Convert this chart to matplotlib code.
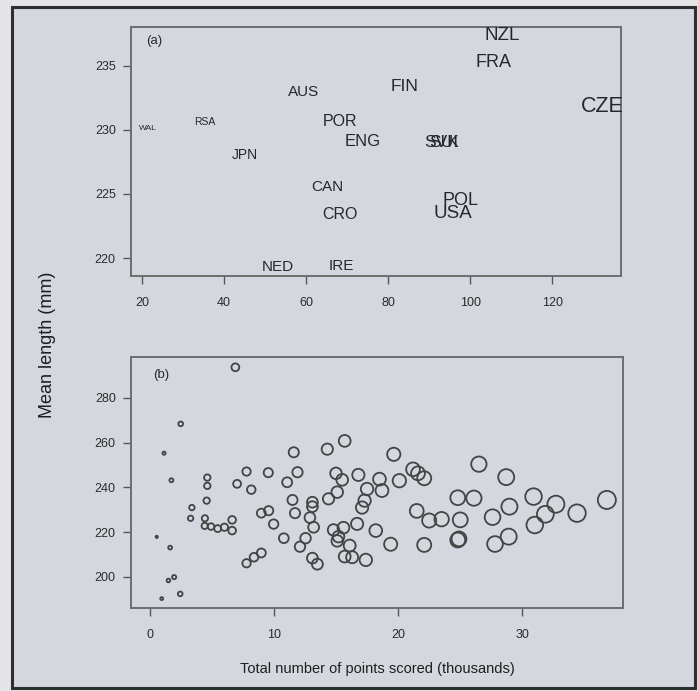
import numpy as np
import matplotlib
matplotlib.use('Agg')
import matplotlib.pyplot as plt
from matplotlib.patches import Rectangle

plt.rcParams['font.family'] = ['Liberation Sans', 'DejaVu Sans']

# панель (a): команды
teams = ['WAL', 'RSA', 'JPN', 'AUS', 'POR', 'ENG', 'CAN', 'CRO', 'NED', 'IRE',
         'FIN', 'NZL', 'FRA', 'CZE', 'SVK', 'SUI', 'POL', 'USA']
team_x = [21.5, 35.4, 45.1, 59.5, 68.3, 73.7, 65.1, 68.3, 53.2, 68.5,
          84.1, 107.8, 105.6, 132.2, 93.0, 93.6, 97.6, 95.9]
team_y = [230.1, 230.6, 228.0, 232.9, 230.6, 229.1, 225.5, 223.4, 219.3, 219.4,
          233.4, 237.3, 235.2, 231.8, 229.0, 229.0, 224.5, 223.5]
team_fs = [6, 7.5, 10, 11, 11.5, 12, 11, 11.5, 11, 11,
           12.5, 13.5, 13, 15.5, 12.5, 12.5, 13, 13.5]

# панель (b): точки
points_k = [6.9, 2.5, 1.16, 1.75, 4.64, 4.64, 4.59, 3.4, 3.3, 4.45,
            4.43, 4.94, 5.48, 6.02, 6.64, 6.64, 0.57, 1.65, 1.51, 1.97,
            2.46, 0.97, 7.8, 9.55, 7.04, 8.18, 11.6, 11.9, 11.07, 11.5,
            11.7, 8.99, 9.58, 9.98, 10.8, 12.1, 7.8, 8.4, 8.99, 15.7,
            14.3, 19.65, 15.0, 15.5, 16.8, 18.5, 20.1, 21.2, 21.6, 22.1,
            17.5, 18.7, 15.1, 14.4, 17.3, 13.1, 13.1, 17.1, 12.9, 24.8,
            21.5, 22.5, 23.5, 25.0, 13.2, 14.8, 15.6, 16.7, 18.2, 15.2,
            15.1, 12.55, 16.1, 19.4, 22.1, 24.8, 24.9, 15.7, 16.3, 17.4,
            13.1, 13.5, 26.5, 28.7, 26.1, 30.9, 32.7, 28.96, 36.8, 31.85,
            34.4, 27.6, 31.0, 27.8, 28.9]
mean_len = [293.7, 268.4, 255.3, 243.2, 244.4, 240.7, 234.1, 231.0, 226.2, 226.2,
            222.8, 222.5, 221.6, 222.2, 225.5, 220.7, 217.9, 213.1, 198.4, 199.9,
            192.4, 190.3, 247.1, 246.6, 241.6, 239.0, 255.7, 246.8, 242.3, 234.4,
            228.5, 228.5, 229.6, 223.6, 217.3, 213.5, 206.1, 208.8, 210.7, 260.8,
            257.1, 254.8, 246.3, 243.4, 245.6, 243.7, 243.0, 248.1, 246.3, 244.1,
            239.3, 238.6, 237.9, 234.9, 234.1, 233.4, 231.4, 231.0, 226.5, 235.4,
            229.5, 225.2, 225.8, 225.5, 222.2, 221.0, 222.0, 223.7, 220.7, 218.0,
            216.1, 217.3, 214.0, 214.6, 214.3, 216.5, 217.0, 209.1, 208.8, 207.6,
            208.4, 205.7, 250.4, 244.6, 235.2, 235.9, 232.5, 231.4, 234.4, 228.0,
            228.5, 226.7, 223.2, 214.7, 218.0]

bg = '#d4d8de'
W, H = 698, 691
fig = plt.figure(figsize=(W / 100, H / 100), dpi=100, facecolor='#e2e4e7')

# рамка вокруг рисунка
frame = Rectangle((12 / W, 1 - 688 / H), (695 - 12) / W, (688 - 7) / H,
                  transform=fig.transFigure, facecolor=bg,
                  edgecolor='#2e2e2e', linewidth=2.2, zorder=-10)
fig.patches.append(frame)

ax1 = fig.add_axes([131 / W, 1 - 276 / H, 490 / W, 249 / H])
ax2 = fig.add_axes([131 / W, 1 - 608 / H, 492 / W, 251 / H])

for ax in (ax1, ax2):
    ax.set_facecolor(bg)
    for s in ax.spines.values():
        s.set_color('#6e6e6e')
        s.set_linewidth(1.4)
    ax.tick_params(axis='both', direction='out', length=6, width=1,
                   color='#555555', labelsize=9, labelcolor='#2a2a2a')
    ax.tick_params(axis='y', pad=5)
    ax.tick_params(axis='x', pad=9)

# (a)
for t, x, y, fs in zip(teams, team_x, team_y, team_fs):
    ax1.text(x, y, t, fontsize=fs, color='#26262e', ha='center', va='center',
             clip_on=False)
ax1.set_xlim(17.3, 136.8)
ax1.set_ylim(218.6, 238.0)
ax1.set_xticks([20, 40, 60, 80, 100, 120])
ax1.set_yticks([220, 225, 230, 235])
ax1.text(0.03, 0.945, '(a)', transform=ax1.transAxes, fontsize=9.5,
         color='#2a2a2a', va='center')

# (b)
ax2.scatter(points_k, mean_len, s=np.array(points_k) * 4.6, facecolors='none',
            edgecolors='#444444', linewidths=1.3, clip_on=False)
ax2.set_xlim(-1.5, 38.1)
ax2.set_ylim(186.1, 298.3)
ax2.set_xticks([0, 10, 20, 30])
ax2.set_yticks([200, 220, 240, 260, 280])
ax2.text(0.045, 0.93, '(b)', transform=ax2.transAxes, fontsize=9.5,
         color='#2a2a2a', va='center')
ax2.set_xlabel('Total number of points scored (thousands)', fontsize=10.5,
               color='#1e1e1e', labelpad=15)

fig.text(48 / W, 1 - 345 / H, 'Mean length (mm)', rotation=90, fontsize=13,
         color='#1e1e1e', ha='center', va='center')

plt.savefig('out.png', dpi=100, facecolor=fig.get_facecolor())
